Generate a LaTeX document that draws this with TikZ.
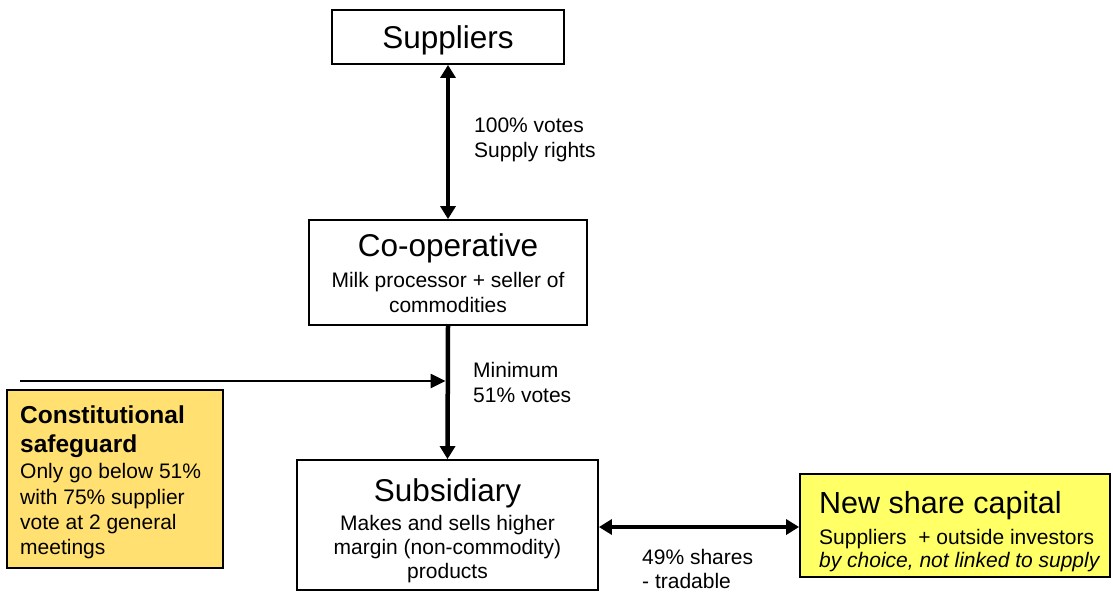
\documentclass[tikz,border=0pt]{standalone}
\usepackage{fontspec}
\setmainfont{Liberation Sans}
\usetikzlibrary{arrows.meta,calc}
\definecolor{safegold}{RGB}{255,224,112}
\definecolor{newyellow}{RGB}{255,255,102}
\tikzset{
  box/.style={draw=black, line width=1.8pt, rectangle, inner sep=0pt, fill=white},
  txt/.style={inner sep=0pt, anchor=base},
  ltxt/.style={inner sep=0pt, anchor=base west},
  big/.style={font=\fontsize{31.5}{36}\selectfont},
  small/.style={font=\fontsize{21}{25}\selectfont},
  thickarrow/.style={line width=4.5pt, -{Triangle[width=15pt,length=13pt]}},
  dblarrow/.style={line width=4.5pt, {Triangle[width=15pt,length=13pt]}-{Triangle[width=15pt,length=13pt]}},
  thinarrow/.style={line width=2.6pt, -{Triangle[width=14pt,length=15pt]}},
}
\begin{document}
\begin{tikzpicture}[x=1pt,y=-1pt]
\useasboundingbox (0,0) rectangle (1113,592);

% boxes
\node[box, minimum width=232pt, minimum height=54pt] (sup) at (448,37) {};
\node[box, minimum width=278pt, minimum height=105pt] (coop) at (448,272.5) {};
\node[box, minimum width=301pt, minimum height=130pt] (sub) at (447.5,525) {};
\node[box, fill=safegold, minimum width=216pt, minimum height=178pt] (safe) at (115,479) {};
\node[box, fill=newyellow, minimum width=310pt, minimum height=103pt] (nsc) at (955,525.5) {};

% box texts
\node[txt, big] (suptxt) at (448,48) {Suppliers};

\node[txt, big] (cooptxt) at (448,256) {Co-operative};
\node[txt, small] (coop1) at (448,287) {Milk processor + seller of};
\node[txt, small] (coop2) at (448,312) {commodities};

\node[txt, big] (subtxt) at (447.5,501) {Subsidiary};
\node[txt, small] (sub1) at (447.5,530) {Makes and sells higher};
\node[txt, small] (sub2) at (447.5,554) {margin (non-commodity)};
\node[txt, small] (sub3) at (447.5,578) {products};

\node[ltxt, font=\fontsize{24.5}{29}\selectfont\bfseries] (safe1) at (20,423) {Constitutional};
\node[ltxt, font=\fontsize{24.5}{29}\selectfont\bfseries] (safe2) at (20,452) {safeguard};
\node[ltxt, small] (safe3) at (20,478) {Only go below 51\%};
\node[ltxt, small] (safe4) at (20,504) {with 75\% supplier};
\node[ltxt, small] (safe5) at (20,529) {vote at 2 general};
\node[ltxt, small] (safe6) at (20,554) {meetings};

\node[ltxt, font=\fontsize{30.5}{35}\selectfont] (nsc1) at (819,513) {New share capital};
\node[ltxt, small] (nsc2) at (819,544) {Suppliers~ + outside investors};
\node[ltxt, small, font=\fontsize{21}{25}\selectfont\itshape] (nsc3) at (819,567) {by choice, not linked to supply};

% connector labels
\node[ltxt, small] (l1) at (474,132) {100\% votes};
\node[ltxt, small] (l2) at (474,157) {Supply rights};
\node[ltxt, small] (l3) at (473,377) {Minimum};
\node[ltxt, small] (l4) at (473,402) {51\% votes};
\node[ltxt, small] (l5) at (642,564) {49\% shares};
\node[ltxt, small] (l6) at (642,588) {- tradable};

% connectors
\draw[dblarrow] (sup.south) -- (coop.north);
\draw[thickarrow] (coop.south) -- (sub.north);
\coordinate (hstart) at (20,381);
\draw[thinarrow, shorten >=2pt] (hstart) -- (hstart -| sub.north);
\coordinate (nscjoin) at ($(nsc.west)+(0,1.5)$);
\draw[dblarrow] (sub.east |- nscjoin) -- (nscjoin);
\end{tikzpicture}
\end{document}
